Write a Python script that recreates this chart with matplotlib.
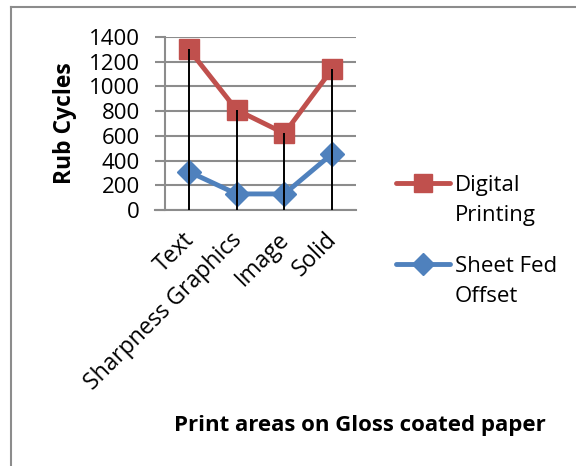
import numpy as np
import matplotlib.pyplot as plt
import matplotlib.transforms as mtransforms
from matplotlib.lines import Line2D

categories = ["Text", "Sharpness Graphics", "Image", "Solid"]
digital = [1300, 810, 620, 1140]
sheet_fed = [310, 130, 130, 455]
series_names = ["Digital\nPrinting", "Sheet Fed\nOffset"]

plt.rcParams['font.family'] = ['Open Sans', 'DejaVu Sans']

fig = plt.figure(figsize=(5.76, 4.66), dpi=100)
ax = fig.add_axes([165/576, 1-210/466, 191/576, 173/466])

x = np.arange(len(categories))
red, blue = '#C0504D', '#4F81BD'
ax.plot(x, digital, color=red, lw=3.5, marker='s', ms=14, zorder=3)
ax.plot(x, sheet_fed, color=blue, lw=3.5, marker='D', ms=12, zorder=3)
# drop lines
ax.vlines(x, 0, np.maximum(digital, sheet_fed), color='black', lw=1.4, zorder=4)

ax.set_xlim(-0.5, 3.5)
ax.set_ylim(0, 1400)
ax.set_yticks(range(0, 1401, 200))
ax.yaxis.grid(True, color='#8c8c8c', lw=1.5)
ax.set_axisbelow(True)
for s in ['top', 'right', 'bottom']:
    ax.spines[s].set_visible(False)
ax.spines['left'].set_color('#8c8c8c')
ax.spines['left'].set_linewidth(1.5)
ax.tick_params(axis='y', length=7, width=1.5, color='#8c8c8c', labelsize=16, pad=11)
ax.tick_params(axis='x', length=0, labelsize=16.5, pad=13)
ax.set_xticks(x)
ax.set_xticklabels(categories, rotation=45, ha='right', rotation_mode='anchor')
shift = mtransforms.ScaledTranslation(-5/72, 0, fig.dpi_scale_trans)
for lbl in ax.get_xticklabels():
    lbl.set_transform(lbl.get_transform() + shift)
ax.set_ylabel('Rub Cycles', fontsize=16.5, fontweight='bold')
ax.yaxis.set_label_coords(-0.46, 0.5)
ax.axhline(0, color='#8c8c8c', lw=1.5, xmin=-10/191, clip_on=False)

fig.text(360/576, 1-426/466, 'Print areas on Gloss coated paper', fontsize=16, fontweight='bold',
         ha='center', va='center')

# legend, drawn by hand so the handle sits on the first text line
for i, (name, col, mk, ms) in enumerate(zip(series_names, [red, blue], ['s', 'D'], [13, 11])):
    yy = 1 - (183 + 81*i)/466
    fig.add_artist(Line2D([396/576, 450/576], [yy, yy], color=col, lw=3.5,
                          solid_capstyle='round'))
    fig.add_artist(Line2D([423/576], [yy], color=col, marker=mk, ms=ms))
    fig.text(455/576, yy + 8/466, name, fontsize=16, ha='left', va='top', linespacing=1.55)

# chart border
fig.add_artist(Line2D([11/576, 11/576], [0, 1-7/466], color='#8c8c8c', lw=1.5))
fig.add_artist(Line2D([11/576, 1], [1-7/466, 1-7/466], color='#8c8c8c', lw=1.5))

fig.savefig('out.png', dpi=100)
